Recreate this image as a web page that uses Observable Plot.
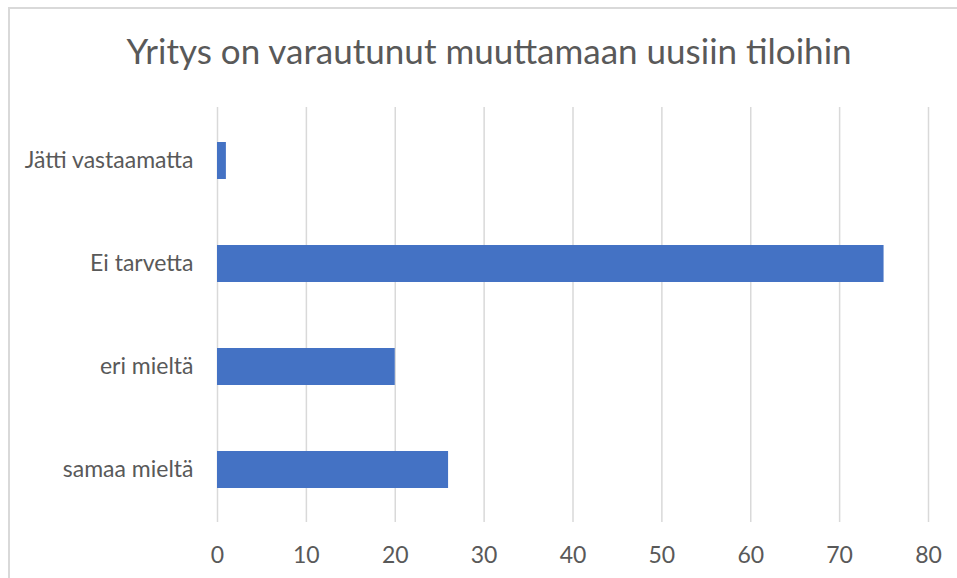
<!DOCTYPE html>
<html>
<head>
<meta charset="utf-8">
<script src="https://cdn.jsdelivr.net/npm/d3@7"></script>
<script src="https://cdn.jsdelivr.net/npm/@observablehq/plot@0.6"></script>
<style>
  html, body { margin: 0; padding: 0; background: #fff; }
  #wrap { position: relative; width: 957px; height: 578px; overflow: hidden; font-family: Lato, "Open Sans", sans-serif; }
  #frame { position: absolute; left: 8px; top: 7px; width: 960px; height: 600px; border-left: 2px solid #d9d9d9; border-top: 2px solid #d9d9d9; box-sizing: border-box; pointer-events: none; }
  #title { position: absolute; top: 28.5px; left: 489px; transform: translateX(-50%); white-space: nowrap; font-size: 35px; line-height: 1.2; color: #595959; }
  #chart { position: absolute; top: 97px; left: 0; }
</style>
</head>
<body>
<div id="wrap">
  <div id="frame"></div>
  <div id="title">Yritys on varautunut muuttamaan uusiin tiloihin</div>
  <div id="chart"></div>
</div>
<script>
const categories = ["Jätti vastaamatta", "Ei tarvetta", "eri mieltä", "samaa mieltä"];
const values = [1, 75, 20, 26];
const xTicks = [0, 10, 20, 30, 40, 50, 60, 70, 80];

const data = categories.map((c, i) => ({ category: c, value: values[i] }));

const chart = Plot.plot({
  width: 957,
  height: 481,
  marginLeft: 217,
  marginRight: 29,
  marginTop: 10,
  marginBottom: 56,
  style: { fontFamily: "Lato, 'Open Sans', sans-serif", fontSize: "23px", color: "#595959", background: "transparent" },
  x: { domain: [0, 80], ticks: xTicks, label: null },
  y: { domain: categories, label: null, paddingInner: 0.645, paddingOuter: 0.3225 },
  marks: [
    Plot.gridX(xTicks, { stroke: "#d9d9d9", strokeOpacity: 1, strokeWidth: 1.5 }),
    Plot.barX(data, { x: "value", y: "category", fill: "#4472C4" }),
    Plot.axisX(xTicks, { tickSize: 0, tickPadding: 24, fontSize: 23, fill: "#595959", label: null }),
    Plot.axisY({ tickSize: 0, tickPadding: 24, fontSize: 23, fill: "#595959", label: null })
  ]
});
document.getElementById("chart").appendChild(chart);
</script>
</body>
</html>
